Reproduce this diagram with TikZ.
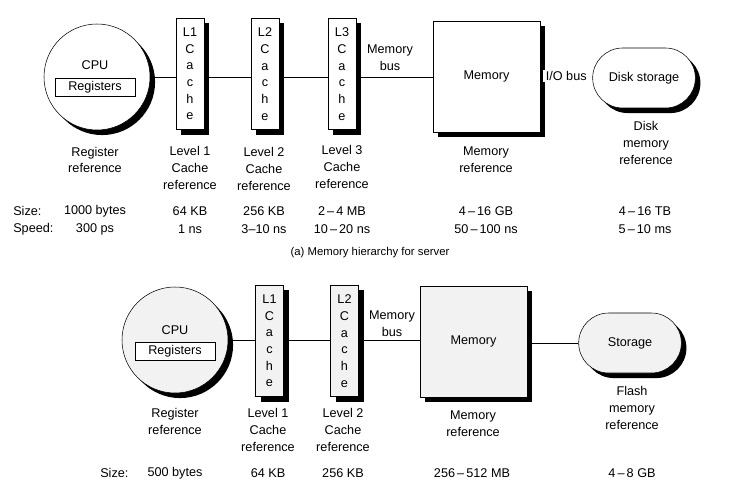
\documentclass[tikz,border=0pt]{standalone}
\usepackage{fontspec}
\setmainfont{Liberation Sans}
\usetikzlibrary{shadows,calc}
\begin{document}
\begin{tikzpicture}[x=0.75pt,y=-0.75pt,
  every node/.style={font=\fontsize{9.5}{12.5}\selectfont},
  shad/.style={drop shadow={shadow xshift=3.8pt,shadow yshift=-3.8pt,fill=black,opacity=1}},
  cpubox/.style={circle,draw,shad,minimum size=79.5pt,inner sep=0pt},
  regbox/.style={draw,minimum width=60pt,minimum height=13.5pt,inner sep=0pt},
  cachebox/.style={draw,shad,minimum width=21pt,minimum height=83.5pt,inner sep=0pt,align=center},
  membox/.style={draw,shad,minimum width=80pt,minimum height=83.5pt,inner sep=0pt},
  diskbox/.style={draw,shad,minimum width=77pt,minimum height=45pt,rounded corners=22.5pt,inner sep=0pt},
  lab/.style={align=center,inner sep=0pt},
  top/.style={fill=white},
  bot/.style={fill=gray!10},
  conn/.style={draw,line width=0.6pt}
]
\useasboundingbox (0,0) rectangle (749,484);

% ---------- (a) server ----------
\node[cpubox,top] (cpu1) at (97,77) {};
\node[lab] (cpu1t) at (95,65) {CPU};
\node[regbox] (reg1) at (95,87) {Registers};
\node[cachebox,top] (c11) at (190,74) {L1\\C\\a\\c\\h\\e};
\node[cachebox,top] (c12) at (265,74) {L2\\C\\a\\c\\h\\e};
\node[cachebox,top] (c13) at (342,74) {L3\\C\\a\\c\\h\\e};
\node[membox,top] (mem1) at (486.5,76.5) {Memory};
\node[diskbox,top] (disk1) at (644,78) {Disk storage};
\node[lab] (mb1) at (390,58) {Memory\\bus};

\draw[conn] (cpu1.east) -- (cpu1.east -| c11.west);
\draw[conn] (c11.east |- cpu1.east) -- (c12.west |- cpu1.east);
\draw[conn] (c12.east |- cpu1.east) -- (c13.west |- cpu1.east);
\draw[conn] (c13.east |- cpu1.east) -- (mem1.west |- cpu1.east);
\draw[conn,shorten >=4pt] (mem1.east |- cpu1.east) -- (disk1.west |- cpu1.east)
  node[midway,fill=white,inner xsep=2.5pt,inner ysep=1pt,yshift=1pt] (io1) {I/O bus};

\node[lab] (r1) at (95,160) {Register\\reference};
\node[lab] (r2) at (190,168) {Level 1\\Cache\\reference};
\node[lab] (r3) at (264,169) {Level 2\\Cache\\reference};
\node[lab] (r4) at (342,167) {Level 3\\Cache\\reference};
\node[lab] (r5) at (486,160) {Memory\\reference};
\node[lab] (r6) at (646,143) {Disk\\memory\\reference};

\node[lab,anchor=west] (sz1) at (13,211) {Size:};
\node[lab,anchor=west] (sp1) at (13,229) {Speed:};
\node[lab] (s1) at (95,211) {1000 bytes};
\node[lab] (p1) at (95,229) {300 ps};
\node[lab] (s2) at (190,211) {64 KB};
\node[lab] (p2) at (190,229) {1 ns};
\node[lab] (s3) at (264,211) {256 KB};
\node[lab] (p3) at (264,229) {3--10 ns};
\node[lab] (s4) at (342,211) {2\,--\,4 MB};
\node[lab] (p4) at (342,229) {10\,--\,20 ns};
\node[lab] (s5) at (486,211) {4\,--\,16 GB};
\node[lab] (p5) at (486,229) {50\,--\,100 ns};
\node[lab] (s6) at (645,211) {4\,--\,16 TB};
\node[lab] (p6) at (645,229) {5\,--\,10 ms};

\node[lab,font=\fontsize{8.5}{10}\selectfont] (cap1) at (370,253) {(a) Memory hierarchy for server};

% ---------- (b) ----------
\node[cpubox,bot] (cpu2) at (175,340) {};
\node[lab] (cpu2t) at (175,330) {CPU};
\node[regbox,fill=white] (reg2) at (175,351) {Registers};
\node[cachebox,bot] (c21) at (269.5,341) {L1\\C\\a\\c\\h\\e};
\node[cachebox,bot] (c22) at (344.5,341) {L2\\C\\a\\c\\h\\e};
\node[membox,bot] (mem2) at (473.5,341.5) {Memory};
\node[diskbox,bot] (stor2) at (630,343) {Storage};
\node[lab] (mb2) at (392,324) {Memory\\bus};

\draw[conn] (cpu2.east) -- (cpu2.east -| c21.west);
\draw[conn] (c21.east |- cpu2.east) -- (c22.west |- cpu2.east);
\draw[conn] (c22.east |- cpu2.east) -- (mem2.west |- cpu2.east);
\draw[conn] (mem2.east |- stor2.west) -- (stor2.west);

\node[lab] (q1) at (175,421.5) {Register\\reference};
\node[lab] (q2) at (268,430) {Level 1\\Cache\\reference};
\node[lab] (q3) at (343,430) {Level 2\\Cache\\reference};
\node[lab] (q5) at (473,424) {Memory\\reference};
\node[lab] (q6) at (632,408) {Flash\\memory\\reference};

\node[lab,anchor=west] (sz2) at (100,473) {Size:};
\node[lab] (t1) at (175,473) {500 bytes};
\node[lab] (t2) at (268,473) {64 KB};
\node[lab] (t3) at (343,473) {256 KB};
\node[lab] (t5) at (472,473) {256\,--\,512 MB};
\node[lab] (t6) at (632,473) {4\,--\,8 GB};
\end{tikzpicture}
\end{document}
